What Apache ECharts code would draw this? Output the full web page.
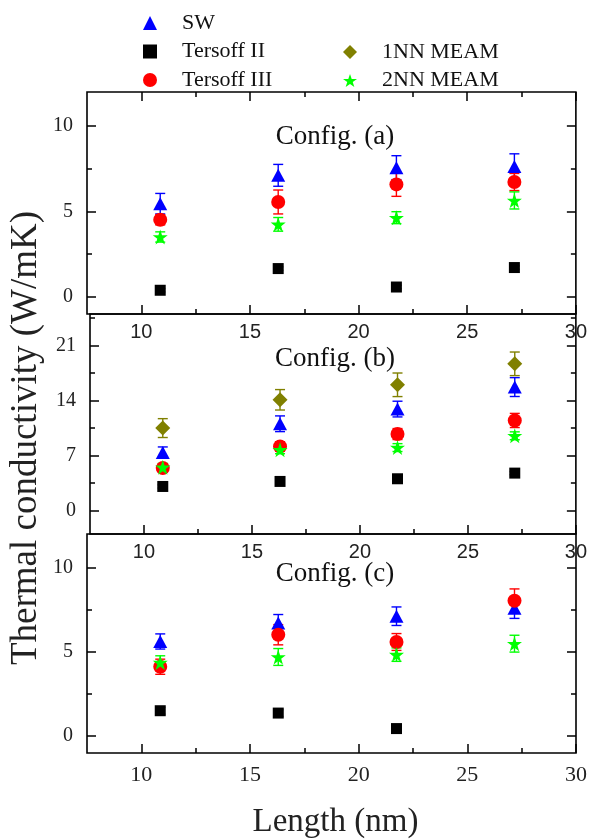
<!DOCTYPE html>
<html>
<head>
<meta charset="utf-8">
<style>html,body{margin:0;padding:0;background:#fff}#c{width:590px;height:840px}</style>
<script src="https://cdn.jsdelivr.net/npm/echarts@6/dist/echarts.min.js"></script>
</head>
<body>
<div id="c"></div>
<script>
// ---- data ----
var lengths = [10.87, 16.30, 21.74, 27.17];
var seriesNames = ['SW', 'Tersoff II', 'Tersoff III', '1NN MEAM', '2NN MEAM'];
var panelTitles = ['Config. (a)', 'Config. (b)', 'Config. (c)'];

// Config (a)
var swA = [5.46, 7.12, 7.57, 7.64],   swAErr = [0.60, 0.64, 0.70, 0.74];
var t2A = [0.39, 1.66, 0.58, 1.72],   t2AErr = [0.10, 0.10, 0.10, 0.10];
var t3A = [4.52, 5.56, 6.59, 6.73],   t3AErr = [0.30, 0.70, 0.70, 0.50];
var m2A = [3.51, 4.25, 4.64, 5.65],   m2AErr = [0.30, 0.40, 0.35, 0.50];
// Config (b)
var swB = [7.38, 11.03, 12.90, 15.70], swBErr = [0.70, 1.00, 1.00, 1.20];
var t2B = [3.05, 3.69, 4.03, 4.75],    t2BErr = [0.20, 0.20, 0.20, 0.20];
var t3B = [5.39, 8.14, 9.72, 11.45],   t3BErr = [0.50, 0.60, 0.70, 0.90];
var m1B = [10.48, 14.08, 15.99, 18.66], m1BErr = [1.20, 1.30, 1.50, 1.50];
var m2B = [5.50, 7.72, 8.00, 9.50],    m2BErr = [0.50, 0.50, 0.50, 0.50];
// Config (c)
var swC = [5.62, 6.72, 7.12, 7.59],   swCErr = [0.45, 0.50, 0.55, 0.60];
var t2C = [1.51, 1.37, 0.45],         t2CErr = [0.20, 0.20, 0.10];
var t3C = [4.12, 6.02, 5.59, 8.04],   t3CErr = [0.45, 0.60, 0.50, 0.70];
var m2C = [4.37, 4.70, 4.84, 5.49],   m2CErr = [0.40, 0.50, 0.40, 0.50];

// tick labels
var xMajor = [10, 15, 20, 25, 30];
var xMinor = [12.5, 17.5, 22.5, 27.5];
var yMajorA = [0, 5, 10], yMinorA = [2.5, 7.5];
var yMajorB = [0, 7, 14, 21], yMinorB = [3.5, 10.5, 17.5, 24.5];
var yMajorC = [0, 5, 10], yMinorC = [2.5, 7.5];

// ---- styling ----
var colors = {'SW': '#0000ff', 'Tersoff II': '#000000', 'Tersoff III': '#ff0000', '1NN MEAM': '#808000', '2NN MEAM': '#00ff00'};
var STAR = 'path://M50,0 L61.8,35.1 L98.9,35.1 L69.1,56.9 L80.3,91.9 L50,70.2 L19.7,91.9 L30.9,56.9 L1.1,35.1 L38.2,35.1 Z';
var symbols = {'SW': 'triangle', 'Tersoff II': 'rect', 'Tersoff III': 'circle', '1NN MEAM': 'diamond', '2NN MEAM': STAR};
var sizes = {'SW': [14, 13], 'Tersoff II': 11, 'Tersoff III': 14, '1NN MEAM': [15, 15], '2NN MEAM': 15};
var SERIF = 'Liberation Serif';
var SANS = 'Liberation Sans';

var panels = [
  {min: -1, max: 12, major: yMajorA, minor: yMinorA, top: 92, bottom: 526,
   data: {'SW': [swA, swAErr], 'Tersoff II': [t2A, t2AErr], 'Tersoff III': [t3A, t3AErr], '2NN MEAM': [m2A, m2AErr]}},
  {min: -3, max: 25, major: yMajorB, minor: yMinorB, top: 314, bottom: 306,
   data: {'SW': [swB, swBErr], 'Tersoff II': [t2B, t2BErr], 'Tersoff III': [t3B, t3BErr], '1NN MEAM': [m1B, m1BErr], '2NN MEAM': [m2B, m2BErr]}},
  {min: -1, max: 12, major: yMajorC, minor: yMinorC, top: 534, bottom: 84,
   data: {'SW': [swC, swCErr], 'Tersoff II': [t2C, t2CErr], 'Tersoff III': [t3C, t3CErr], '2NN MEAM': [m2C, m2CErr]}}
];

var grids = [], xAxes = [], yAxes = [], series = [], titles = [];
var tickStyle = {color: '#000', width: 1.5};

function xAxisDef(g, pos, vals, len, labels, labelStyle) {
  return {
    type: 'value', gridIndex: g, position: pos, min: 7.5, max: 30,
    axisLine: {show: false, onZero: false}, splitLine: {show: false},
    axisTick: {show: true, inside: true, length: len, customValues: vals, lineStyle: tickStyle},
    axisLabel: labels ? Object.assign({show: true, customValues: vals}, labelStyle) : {show: false}
  };
}
function yAxisDef(g, pos, p, vals, len, labels, extra) {
  var a = {
    type: 'value', gridIndex: g, position: pos, min: p.min, max: p.max,
    axisLine: {show: false, onZero: false}, splitLine: {show: false},
    axisTick: {show: true, inside: true, length: len, customValues: vals, lineStyle: tickStyle},
    axisLabel: labels ? {show: true, customValues: vals, fontFamily: SERIF, fontSize: 20, color: '#222', margin: 14} : {show: false}
  };
  return Object.assign(a, extra || {});
}

panels.forEach(function (p, g) {
  grids.push({left: 87, right: 12, top: p.top, bottom: p.bottom, show: true, borderColor: '#000', borderWidth: 1.6, backgroundColor: 'transparent', containLabel: false});
  var labelStyle = g === 2
    ? {fontFamily: SERIF, fontSize: 22, color: '#222', margin: 11}
    : {fontFamily: SANS, fontSize: 20, color: '#222', margin: 8};
  var xi = xAxes.length;
  var xa = xAxisDef(g, 'bottom', xMajor, 9, true, labelStyle);
  if (g === 2) {
    xa.name = 'Length (nm)';
    xa.nameLocation = 'middle';
    xa.nameGap = 53;
    xa.nameTextStyle = {fontFamily: SERIF, fontSize: 33, color: '#222', padding: [0, 0, 0, 8]};
  }
  xAxes.push(xa);
  xAxes.push(xAxisDef(g, 'bottom', xMinor, 5, false));
  if (g === 0) {
    xAxes.push(xAxisDef(g, 'top', xMajor, 9, false));
    xAxes.push(xAxisDef(g, 'top', xMinor, 5, false));
  }
  var yi = yAxes.length;
  var extra = null;
  if (g === 1) {
    extra = {name: 'Thermal conductivity (W/mK)', nameLocation: 'middle', nameGap: 45,
      nameTextStyle: {fontFamily: SERIF, fontSize: 37, color: '#222', padding: [0, 28, 0, 0]}};
  }
  yAxes.push(yAxisDef(g, 'left', p, p.major, 9, true, extra));
  yAxes.push(yAxisDef(g, 'left', p, p.minor, 5, false));
  yAxes.push(yAxisDef(g, 'right', p, p.major, 9, false));
  yAxes.push(yAxisDef(g, 'right', p, p.minor, 5, false));

  seriesNames.forEach(function (name) {
    var d = p.data[name];
    if (!d) return;
    var vals = d[0], errs = d[1];
    var pts = vals.map(function (v, i) { return [lengths[i], v]; });
    var errPts = vals.map(function (v, i) { return [lengths[i], v, errs[i]]; });
    series.push({
      type: 'custom', name: name + ' error', xAxisIndex: xi, yAxisIndex: yi, silent: true,
      data: errPts,
      renderItem: function (params, api) {
        var x = api.value(0), y = api.value(1), e = api.value(2);
        var top = api.coord([x, y + e]), bot = api.coord([x, y - e]);
        var cw = 5;
        var st = {stroke: colors[name], lineWidth: 1.4};
        return {type: 'group', children: [
          {type: 'line', shape: {x1: top[0], y1: top[1], x2: bot[0], y2: bot[1]}, style: st},
          {type: 'line', shape: {x1: top[0] - cw, y1: top[1], x2: top[0] + cw, y2: top[1]}, style: st},
          {type: 'line', shape: {x1: bot[0] - cw, y1: bot[1], x2: bot[0] + cw, y2: bot[1]}, style: st}
        ]};
      }
    });
    series.push({
      type: 'scatter', name: name, xAxisIndex: xi, yAxisIndex: yi,
      symbol: symbols[name], symbolSize: sizes[name],
      itemStyle: {color: colors[name], opacity: 1},
      data: pts
    });
  });

  titles.push({
    text: panelTitles[g], left: 330, textAlign: 'center',
    top: [118, 340, 555][g],
    textStyle: {fontFamily: SERIF, fontSize: 27, fontWeight: 'normal', color: '#111'}
  });
});

var legendText = {fontFamily: SERIF, fontSize: 22, color: '#111', lineHeight: 24, padding: [0, 0, 0, 20]};
var option = {
  animation: false,
  backgroundColor: '#fff',
  title: titles,
  legend: [
    {data: ['SW', 'Tersoff II', 'Tersoff III'], orient: 'vertical', left: 143, top: 11, padding: 0,
     itemWidth: 14, itemHeight: 14, itemGap: 4.5, textStyle: legendText, selectedMode: false},
    {data: ['1NN MEAM', '2NN MEAM'], orient: 'vertical', left: 343, top: 40, padding: 0,
     itemWidth: 14, itemHeight: 14, itemGap: 4.5, textStyle: legendText, selectedMode: false}
  ],
  grid: grids,
  xAxis: xAxes,
  yAxis: yAxes,
  series: series
};
var chart = echarts.init(document.getElementById('c'), null, {renderer: 'canvas', width: 590, height: 840});
chart.setOption(option);
</script>
</body>
</html>
